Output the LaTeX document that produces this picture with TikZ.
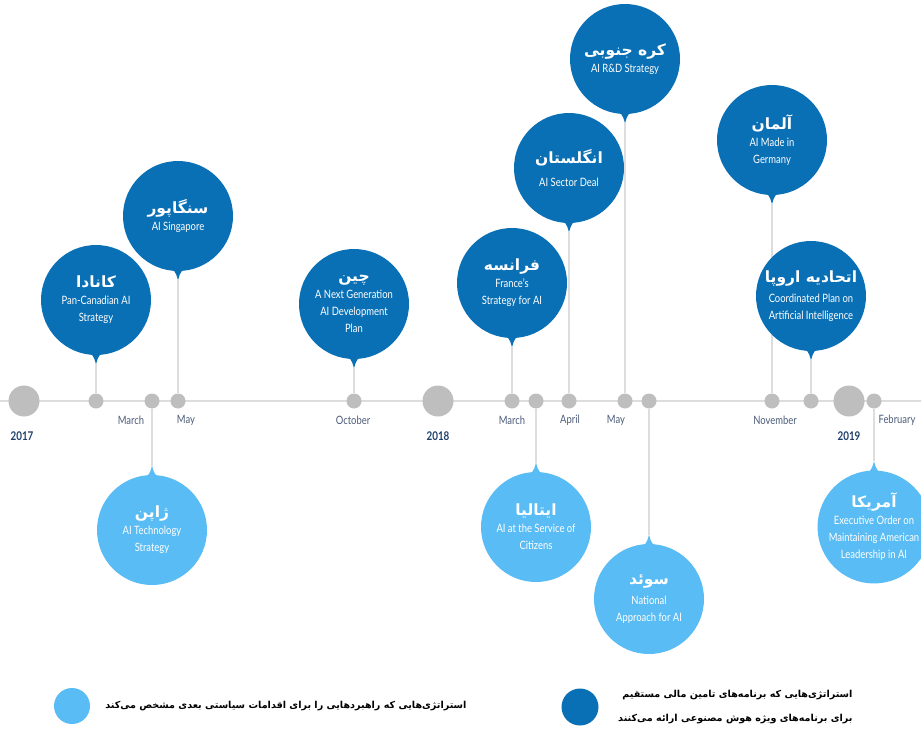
\documentclass[tikz,border=0pt]{standalone}
\usepackage{fontspec}
\setmainfont[FakeStretch=0.82]{Lato}
\newfontfamily\fa[Script=Arabic]{DejaVu Sans}
\TeXXeTstate=1
\usetikzlibrary{calc, positioning, backgrounds}
\definecolor{deep}{HTML}{0A70B5}
\definecolor{sky}{HTML}{5ABCF4}
\definecolor{dotg}{HTML}{BEBEBE}
\definecolor{lineg}{HTML}{DDDDDD}
\definecolor{monc}{HTML}{4B5B78}
\definecolor{yrc}{HTML}{1D3F6B}
\newcommand{\ttl}[1]{{\fa\bfseries\fontsize{15.5}{21}\selectfont\beginR #1\endR}}
\newcommand{\rtl}[1]{\beginR #1\endR}
% pin tips under / over a balloon
\newcommand{\tipdn}[2]{\fill[#2] ($(#1.south)+(-12,-4)$) .. controls ($(#1.south)+(-3,-1)$) .. ($(#1.south)+(0,9)$) .. controls ($(#1.south)+(3,-1)$) .. ($(#1.south)+(12,-4)$) -- cycle;
  \coordinate (#1-t) at ($(#1.south)+(0,9)$);}
\newcommand{\tipup}[2]{\fill[#2] ($(#1.north)+(-12,4)$) .. controls ($(#1.north)+(-3,1)$) .. ($(#1.north)+(0,-9)$) .. controls ($(#1.north)+(3,1)$) .. ($(#1.north)+(12,4)$) -- cycle;
  \coordinate (#1-t) at ($(#1.north)+(0,-9)$);}

\begin{document}
\begin{tikzpicture}[x=1pt, y=-1pt,
    dk/.style={circle, fill=deep, minimum size=110pt, inner sep=0pt, align=center,
       text=white, font=\fontsize{11.5}{17}\selectfont},
    lt/.style={dk, fill=sky},
    dot/.style={circle, fill=dotg, minimum size=15pt, inner sep=0pt},
    ydot/.style={dot, minimum size=31pt},
    stem/.style={draw=lineg, line width=2pt},
    mon/.style={text=monc, font=\fontsize{11.5}{12}\selectfont},
    yr/.style={text=yrc, font=\bfseries\fontsize{12}{12}\selectfont},
    leg/.style={font=\fa\bfseries\fontsize{9.6}{24}\selectfont, align=right}]
  \useasboundingbox (0,0) rectangle (921,729);

  % timeline
  \coordinate (tl-l) at (0,401);
  \coordinate (tl-r) at (921,401);
  \node[ydot] (d17) at (24,401) {};
  \node[dot] (dcan) at (96,401) {};
  \node[dot] (djpn) at (152,401) {};
  \node[dot] (dsgp) at (178,401) {};
  \node[dot] (dchn) at (354,401) {};
  \node[ydot] (d18) at (438,401) {};
  \node[dot] (dfra) at (512,401) {};
  \node[dot] (dita) at (536,401) {};
  \node[dot] (dgbr) at (569,401) {};
  \node[dot] (dkor) at (625,401) {};
  \node[dot] (dswe) at (649,401) {};
  \node[dot] (ddeu) at (772,401) {};
  \node[dot] (deur) at (811,401) {};
  \node[ydot] (d19) at (849,401) {};
  \node[dot] (dusa) at (874,401) {};

  \node[yr] (y17) at (22,436) {2017};
  \node[yr] (y18) at (438,436) {2018};
  \node[yr] (y19) at (849,436) {2019};
  \node[mon] (m1) at (131,420) {March};
  \node[mon] (m2) at (186,420) {May};
  \node[mon] (m3) at (353,420) {October};
  \node[mon] (m4) at (512,420) {March};
  \node[mon] (m5) at (570,420) {April};
  \node[mon] (m6) at (616,420) {May};
  \node[mon] (m7) at (775,420) {November};
  \node[mon] (m8) at (897,420) {February};

  % balloons above
  \node[dk] (can) at (96,300) {\ttl{کانادا}\\Pan-Canadian AI\\Strategy};
  \node[dk] (sgp) at (178,216) {\ttl{سنگاپور}\\AI Singapore};
  \node[dk] (chn) at (354,304) {\ttl{چین}\\A Next Generation\\AI Development\\Plan};
  \node[dk] (fra) at (512,283) {\ttl{فرانسه}\\France's\\Strategy for AI};
  \node[dk] (gbr) at (569,168) {\ttl{انگلستان}\\[6pt]AI Sector Deal};
  \node[dk] (kor) at (625,59) {\ttl{کره جنوبی}\\AI R\&D Strategy};
  \node[dk] (deu) at (772,140) {\ttl{آلمان}\\AI Made in\\Germany};
  \node[dk] (eur) at (811,296) {\ttl{اتحادیه اروپا}\\[3pt]Coordinated Plan on\\Artificial Intelligence};
  \tipdn{can}{deep}\tipdn{sgp}{deep}\tipdn{chn}{deep}\tipdn{fra}{deep}
  \tipdn{gbr}{deep}\tipdn{kor}{deep}\tipdn{deu}{deep}\tipdn{eur}{deep}

  % balloons below
  \node[lt] (jpn) at (152,530) {\ttl{ژاپن}\\AI Technology\\Strategy};
  \node[lt] (ita) at (536,527) {\ttl{ایتالیا}\\AI at the Service of\\Citizens};
  \node[lt] (swe) at (649,599) {\ttl{سوئد}\\[3pt]National\\Approach for AI};
  \node[lt] (usa) at (874,527) {\ttl{آمریکا}\\Executive Order on\\Maintaining American\\Leadership in AI};
  \tipup{jpn}{sky}\tipup{ita}{sky}\tipup{swe}{sky}\tipup{usa}{sky}

  \begin{pgfonlayer}{background}
    \draw[lineg, line width=2.5pt] (tl-l) -- (tl-r);
    \draw[stem] (dcan) -- (can-t);
    \draw[stem] (dsgp) -- (sgp-t);
    \draw[stem] (dchn) -- (chn-t);
    \draw[stem] (dfra) -- (fra-t);
    \draw[stem] (dgbr) -- (gbr-t);
    \draw[stem] (dkor) -- (kor-t);
    \draw[stem] (ddeu) -- (deu-t);
    \draw[stem] (deur) -- (eur-t);
    \draw[stem] (djpn) -- (jpn-t);
    \draw[stem] (dita) -- (ita-t);
    \draw[stem] (dswe) -- (swe-t);
    \draw[stem] (dusa) -- (usa-t);
  \end{pgfonlayer}

  % legend
  \node[circle, fill=sky, minimum size=36pt] (k1) at (72,706) {};
  \node[leg, anchor=east] (k1t) at (470,706) {\rtl{استراتژی‌هایی که راهبردهایی را برای اقدامات سیاستی بعدی مشخص می‌کند}};
  \node[circle, fill=deep, minimum size=37pt] (k2) at (580,707) {};
  \node[leg, anchor=east] (k2t) at (856,707) {\rtl{استراتژی‌هایی که برنامه‌های تامین مالی مستقیم}\\\rtl{برای برنامه‌های ویژه هوش مصنوعی ارائه می‌کنند}};
\end{tikzpicture}
\end{document}
